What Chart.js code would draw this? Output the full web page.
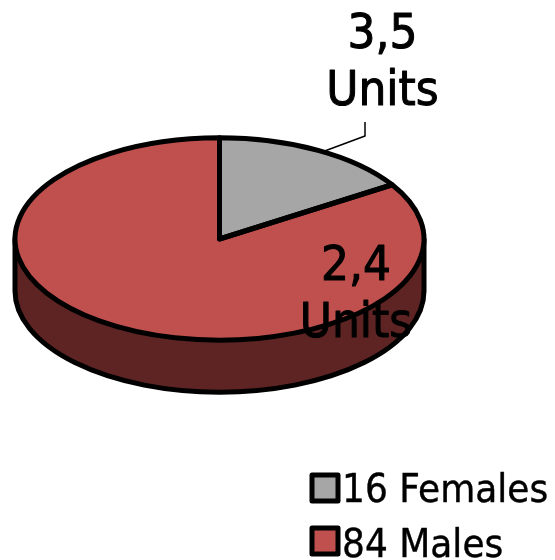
<!DOCTYPE html>
<html>
<head>
<meta charset="utf-8">
<title>Females and males</title>
<script src="https://cdn.jsdelivr.net/npm/chart.js@4/dist/chart.umd.min.js"></script>
<style>
  html, body { margin: 0; padding: 0; background: #fff; }
  #pie { display: block; filter: blur(0.7px); }
</style>
</head>
<body>
<canvas id="pie" width="555" height="560"></canvas>
<script>
// ===== Data =====
const categories = ['Females', 'Males'];
const shares = [16, 84];
const valueLabels = ['3,5', '2,4'];
const unitLabel = 'Units';

// ===== Look =====
const sliceColors = ['#a6a6a6', '#c0504d'];
const sideColor = '#5e2423';
const outline = '#000';
const squash = 0.495;   // tilt of the pie
const depth = 52;       // height of the side wall
const fontName = '"DejaVu Sans", sans-serif';

function setStroke(ctx, width) {
  ctx.strokeStyle = outline;
  ctx.lineWidth = width;
  ctx.lineJoin = 'round';
}

// text in the original is slightly stretched upward and heavier
function tallText(ctx, txt, x, y, weight) {
  ctx.save();
  ctx.translate(x, y);
  ctx.scale(1, 1.08);
  ctx.fillText(txt, 0, 0);
  ctx.lineWidth = weight;
  ctx.strokeText(txt, 0, 0);
  ctx.restore();
}

// ===== Fake 3D: side wall first, squash the arcs, outline on top =====
const tiltPlugin = {
  id: 'tilt',
  beforeDatasetsDraw(chart) {
    const ctx = chart.ctx;
    const arc = chart.getDatasetMeta(0).data[0];
    const ry = arc.outerRadius * squash;

    ctx.save();
    ctx.beginPath();
    ctx.moveTo(arc.x - arc.outerRadius, arc.y);
    ctx.lineTo(arc.x - arc.outerRadius, arc.y + depth);
    ctx.ellipse(arc.x, arc.y + depth, arc.outerRadius, ry, 0, Math.PI, 0, true);
    ctx.lineTo(arc.x + arc.outerRadius, arc.y);
    ctx.closePath();
    ctx.fillStyle = sideColor;
    ctx.fill();
    setStroke(ctx, 5);
    ctx.stroke();
    ctx.restore();

    ctx.save();
    ctx.translate(0, arc.y);
    ctx.scale(1, squash);
    ctx.translate(0, -arc.y);
  },
  afterDatasetsDraw(chart) {
    const ctx = chart.ctx;
    ctx.restore();

    const arcs = chart.getDatasetMeta(0).data;
    ctx.save();
    setStroke(ctx, 5);
    arcs.forEach(arc => {
      const ry = arc.outerRadius * squash;
      ctx.beginPath();
      ctx.moveTo(arc.x, arc.y);
      ctx.ellipse(arc.x, arc.y, arc.outerRadius, ry, 0, arc.startAngle, arc.endAngle);
      ctx.closePath();
      ctx.stroke();
    });
    ctx.restore();
  }
};

// ===== Leader line, value labels and legend =====
const textPlugin = {
  id: 'texts',
  afterDraw(chart) {
    const ctx = chart.ctx;
    ctx.save();

    setStroke(ctx, 1.5);
    ctx.beginPath();
    ctx.moveTo(322, 152);
    ctx.lineTo(365, 136);
    ctx.lineTo(365, 122);
    ctx.stroke();

    ctx.fillStyle = outline;
    ctx.strokeStyle = outline;
    ctx.textAlign = 'center';
    ctx.textBaseline = 'alphabetic';
    ctx.font = '44px ' + fontName;
    const labelPos = [[382.5, 48, 105], [356, 280, 337]];
    valueLabels.forEach((txt, i) => {
      tallText(ctx, txt, labelPos[i][0], labelPos[i][1], 1);
      tallText(ctx, unitLabel, labelPos[i][0], labelPos[i][2], 1);
    });

    ctx.textAlign = 'left';
    ctx.font = '36px ' + fontName;
    const boxY = [475, 528];
    const textY = [502, 557];
    categories.forEach((name, i) => {
      ctx.fillStyle = sliceColors[i];
      ctx.fillRect(312, boxY[i], 26, 26);
      setStroke(ctx, 5);
      ctx.strokeRect(312, boxY[i], 26, 26);
      ctx.fillStyle = outline;
      tallText(ctx, shares[i] + ' ' + name, 342, textY[i], 0.4);
    });

    ctx.restore();
  }
};

new Chart(document.getElementById('pie'), {
  type: 'pie',
  data: {
    labels: categories,
    datasets: [{
      data: shares,
      backgroundColor: sliceColors,
      borderWidth: 0
    }]
  },
  options: {
    responsive: false,
    animation: false,
    layout: { padding: { left: 15, right: 131, top: 34, bottom: 116 } },
    plugins: {
      legend: { display: false },
      tooltip: { enabled: false }
    }
  },
  plugins: [tiltPlugin, textPlugin]
});
</script>
</body>
</html>
